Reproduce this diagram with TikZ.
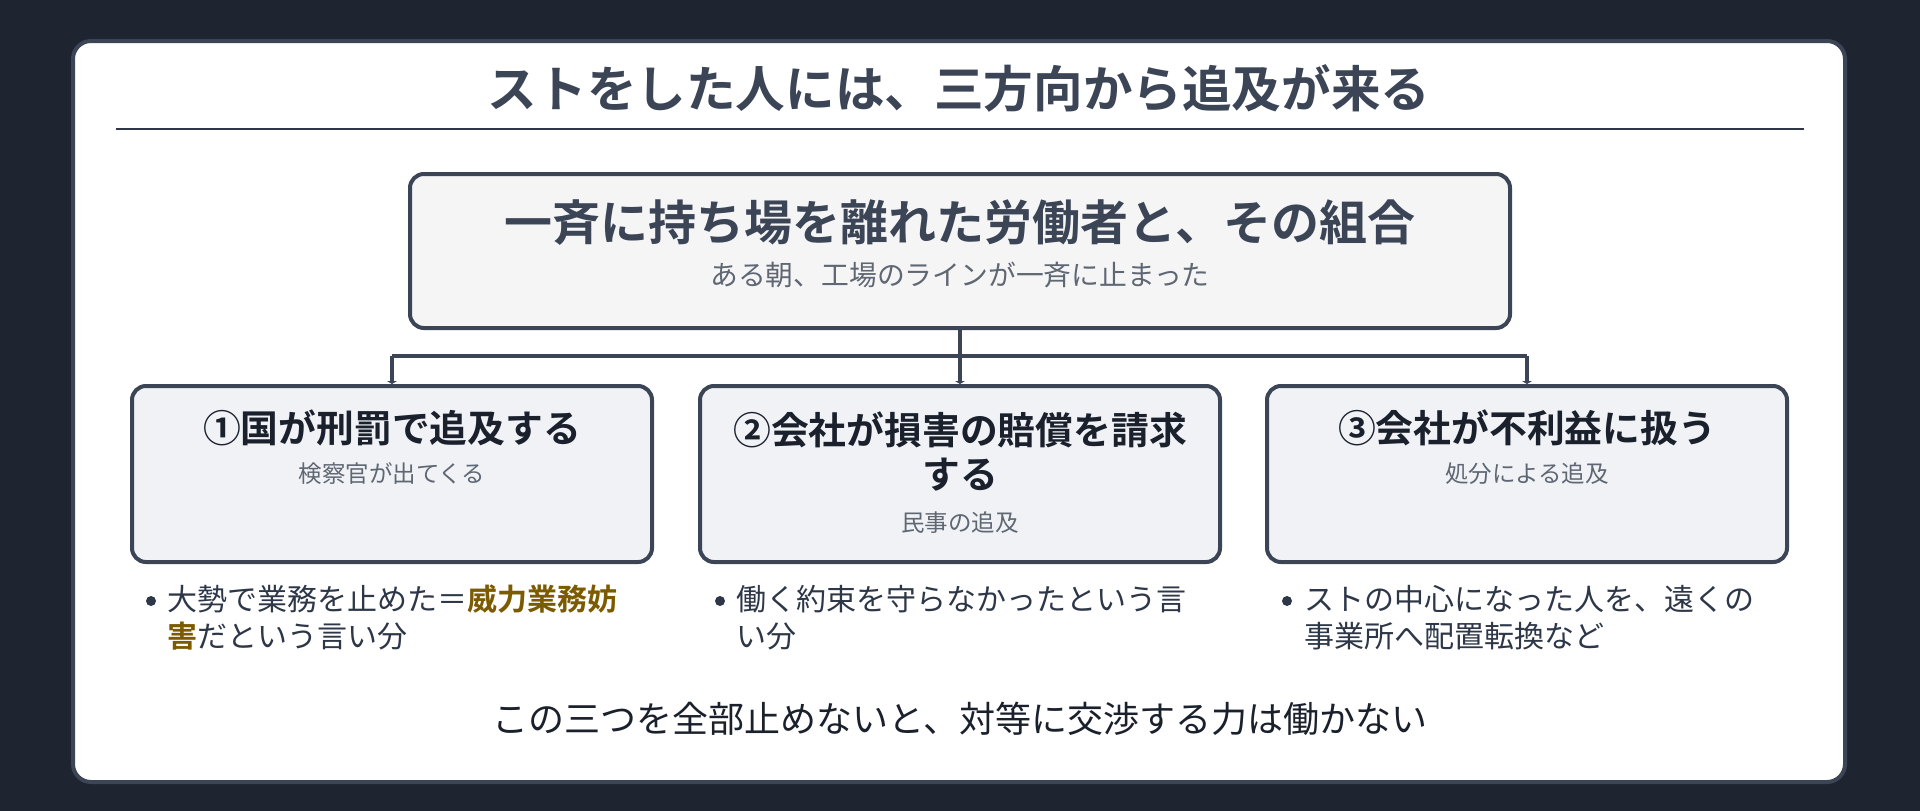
\documentclass[tikz,border=0pt]{standalone}
\usepackage{fontspec}
\setmainfont{Noto Sans CJK JP}
\newfontfamily\jpb{Noto Sans CJK JP Bold}
\usetikzlibrary{arrows.meta}
\definecolor{bgdark}{HTML}{1E2530}
\definecolor{cardedge}{HTML}{3B4556}
\definecolor{ink}{HTML}{2D3748}
\definecolor{inkdark}{HTML}{1A202C}
\definecolor{subgray}{HTML}{5F6773}
\definecolor{topfill}{HTML}{F5F5F6}
\definecolor{boxfill}{HTML}{F0F2F6}
\definecolor{hl}{HTML}{7C5A00}
\tikzset{
  topbox/.style={draw=cardedge, line width=4pt, fill=topfill, rounded corners=14pt},
  sidebox/.style={draw=cardedge, line width=4pt, fill=boxfill, rounded corners=14pt},
  conn/.style={draw=cardedge, line width=3.5pt},
  tip/.style={-{Triangle[width=10pt,length=3pt]}},
  titletext/.style={font=\jpb\fontsize{49.6}{56}\selectfont, text=cardedge},
  maintext/.style={font=\jpb\fontsize{48}{54}\selectfont, text=cardedge},
  subtext/.style={font=\fontsize{27.8}{32}\selectfont, text=subgray},
  boxtitle/.style={font=\jpb\fontsize{37.8}{45}\selectfont, text=inkdark, align=center},
  boxsub/.style={font=\fontsize{23.5}{28}\selectfont, text=subgray},
  bullettext/.style={font=\fontsize{30}{37}\selectfont, text=ink, anchor=north west, align=left, inner sep=0pt},
  dot/.style={circle, fill=ink, inner sep=0pt, minimum size=10pt},
  foot/.style={font=\fontsize{36}{42}\selectfont, text=inkdark}
}
\begin{document}
\begin{tikzpicture}[x=1pt,y=-1pt]
\useasboundingbox (0,0) rectangle (1920,811);
\fill[bgdark] (0,0) rectangle (1920,811);
\draw[draw=cardedge, line width=4pt, fill=white, rounded corners=18pt] (73,41) rectangle (1845,782);
\node[titletext] (title) at (959,88) {ストをした人には、三方向から追及が来る};
\draw[draw=ink, line width=2.5pt] (116,129) -- (1804,129);

\node[topbox, minimum width=1100pt, minimum height=154pt] (top) at (960,251) {};
\node[maintext] (toptitle) at (960,223) {一斉に持ち場を離れた労働者と、その組合};
\node[subtext] (topsub) at (960,275) {ある朝、工場のラインが一斉に止まった};

\node[sidebox, minimum width=520pt, minimum height=176pt] (b1) at (392,474) {};
\node[sidebox, minimum width=520pt, minimum height=176pt] (b2) at (960,474) {};
\node[sidebox, minimum width=520pt, minimum height=176pt] (b3) at (1527,474) {};

\coordinate (bus) at (960,356);
\draw[conn] (top.south) -- (bus);
\draw[conn] (b1.north |- bus) -- (b3.north |- bus);
\draw[conn, tip] (b1.north |- bus) -- (b1.north);
\draw[conn, tip] (bus) -- (b2.north);
\draw[conn, tip] (b3.north |- bus) -- (b3.north);

\node[boxtitle] (t1) at (392,428) {①国が刑罰で追及する};
\node[boxsub] (s1) at (392,474) {検察官が出てくる};
\node[boxtitle] (t2a) at (960,430) {②会社が損害の賠償を請求};
\node[boxtitle] (t2b) at (960,475) {する};
\node[boxsub] (s2) at (960,523) {民事の追及};
\node[boxtitle] (t3) at (1527,428) {③会社が不利益に扱う};
\node[boxsub] (s3) at (1527,474) {処分による追及};

\node[dot] (d1) at (151,601) {};
\node[bullettext] (l1) at (167,585) {大勢で業務を止めた＝{\jpb\color{hl}威力業務妨}\\{\jpb\color{hl}害}だという言い分};
\node[dot] (d2) at (720,601) {};
\node[bullettext] (l2) at (736,585) {働く約束を守らなかったという言\\い分};
\node[dot] (d3) at (1287,601) {};
\node[bullettext] (l3) at (1304,585) {ストの中心になった人を、遠くの\\事業所へ配置転換など};

\node[foot] (footer) at (960,719) {この三つを全部止めないと、対等に交渉する力は働かない};
\end{tikzpicture}
\end{document}
